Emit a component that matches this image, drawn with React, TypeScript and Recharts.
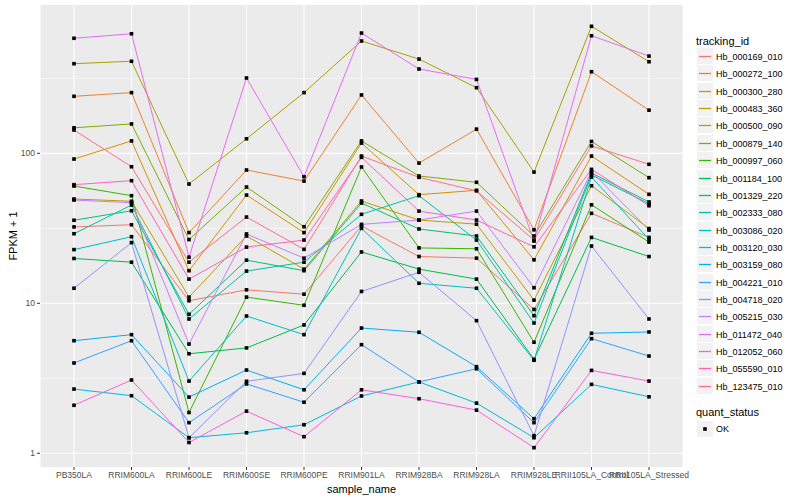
import React from 'react';
import { LineChart, Line, XAxis, YAxis, CartesianGrid, ReferenceLine } from 'recharts';

const samples = [
  'PB350LA', 'RRIM600LA', 'RRIM600LE', 'RRIM600SE', 'RRIM600PE', 'RRIM901LA',
  'RRIM928BA', 'RRIM928LA', 'RRIM928LE', 'RRII105LA_Control', 'RRII105LA_Stressed',
];

const trackingIds = [
  'Hb_000169_010', 'Hb_000272_100', 'Hb_000300_280', 'Hb_000483_360', 'Hb_000500_090',
  'Hb_000879_140', 'Hb_000997_060', 'Hb_001184_100', 'Hb_001329_220', 'Hb_002333_080',
  'Hb_003086_020', 'Hb_003120_030', 'Hb_003159_080', 'Hb_004221_010', 'Hb_004718_020',
  'Hb_005215_030', 'Hb_011472_040', 'Hb_012052_060', 'Hb_055590_010', 'Hb_123475_010',
];

const colors = [
  '#F8766D', '#EA8331', '#D89000', '#C09B00', '#A3A500', '#7CAE00', '#39B600', '#00BB4E',
  '#00BF7D', '#00C1A3', '#00BFC4', '#00BAE0', '#00B0F6', '#35A2FF', '#9590FF', '#C77CFF',
  '#E76BF3', '#FA62DB', '#FF62BC', '#FF6C91',
];

// FPKM + 1, one value per sample
const hb000169 = [32.3, 33.4, 10.4, 12.3, 11.5, 32.8, 20.5, 20.0, 9.1, 39.8, 27.5];
const hb000272 = [240, 254, 29.6, 77.4, 65.3, 245, 86.1, 145, 30.9, 350, 194];
const hb000300 = [91.6, 121, 16.5, 52.7, 29.6, 117, 53.0, 56.7, 19.5, 95.9, 53.3];
const hb000483 = [49.6, 47.9, 11.0, 28.1, 16.9, 48.1, 35.9, 33.7, 10.5, 60.8, 31.5];
const hb000500 = [396, 411, 62.4, 125, 254, 561, 425, 274, 75.0, 703, 408];
const hb000879 = [148, 157, 26.6, 59.6, 32.4, 121, 70.6, 64.1, 28.1, 120, 68.8];
const hb000997 = [60.5, 52.2, 1.87, 11.0, 9.7, 81.1, 23.4, 23.1, 5.5, 45.4, 25.6];
const hb001184 = [19.9, 18.8, 4.61, 5.04, 7.17, 22.0, 16.9, 14.5, 4.23, 27.5, 20.5];
const hb001329 = [35.8, 41.4, 8.45, 19.4, 16.5, 46.6, 31.3, 28.1, 8.27, 73.9, 47.4];
const hb002333 = [29.1, 45.2, 7.86, 16.4, 18.8, 39.2, 52.2, 26.4, 7.39, 71.7, 46.1];
const hb003086 = [22.8, 27.8, 3.03, 8.23, 6.18, 31.6, 13.6, 12.6, 4.17, 69.5, 26.7];
const hb003120 = [2.68, 2.42, 1.27, 1.37, 1.55, 2.41, 2.99, 2.16, 1.27, 2.88, 2.38];
const hb003159 = [5.63, 6.18, 2.37, 3.59, 2.65, 6.84, 6.41, 3.78, 1.70, 6.31, 6.44];
const hb004221 = [4.0, 5.63, 1.60, 2.90, 2.19, 5.30, 2.99, 3.66, 1.60, 5.81, 4.45];
const hb004718 = [12.6, 25.4, 1.27, 3.02, 3.41, 12.0, 16.1, 7.66, 1.31, 24.1, 7.86];
const hb005215 = [48.8, 46.9, 5.35, 29.0, 20.0, 33.6, 35.9, 41.2, 12.7, 75.4, 30.8];
const hb011472 = [585, 627, 20.3, 318, 69.8, 634, 365, 311, 26.0, 608, 445];
const hb012052 = [2.09, 3.08, 1.18, 1.91, 1.29, 2.65, 2.31, 1.94, 1.09, 3.57, 3.03];
const hb055590 = [61.8, 65.7, 14.5, 23.7, 26.4, 94.0, 41.2, 35.9, 23.8, 78.2, 44.7];
const hb123475 = [143, 81.4, 18.8, 37.6, 22.9, 95.9, 69.2, 56.2, 26.4, 112, 84.5];

const seriesValues = [
  hb000169, hb000272, hb000300, hb000483, hb000500, hb000879, hb000997, hb001184,
  hb001329, hb002333, hb003086, hb003120, hb003159, hb004221, hb004718, hb005215,
  hb011472, hb012052, hb055590, hb123475,
];

const yTicks = [1, 10, 100];
const minorTicks = [3.162, 31.62, 316.2];

const data = samples.map((s, i) => {
  const row: Record<string, string | number> = { sample: s };
  trackingIds.forEach((id, k) => {
    row[id] = seriesValues[k][i];
  });
  return row;
});

const FONT = '"Liberation Sans", Arial, Helvetica, sans-serif';

const SquareDot = (props: any) => {
  const { cx, cy, index, dataKey } = props;
  if (cx == null || cy == null) return null;
  return <rect key={`${dataKey}-${index}`} x={cx - 1.8} y={cy - 1.8} width={3.6} height={3.6} fill="#000" />;
};

function LegendPanel() {
  const rowY = (i: number) => Math.round(56 + i * 17.36) + 0.5;
  return (
    <svg width={800} height={500} style={{ position: 'absolute', left: 0, top: 0, pointerEvents: 'none' }}>
      <g fontFamily={FONT}>
        <text x={696} y={44.5} fontSize={11} fill="#000">tracking_id</text>
        {trackingIds.map((id, i) => (
          <g key={id}>
            <rect x={697} y={rowY(i) - 8.5} width={16} height={16} fill="#F2F2F2" />
            <line x1={699} x2={711} y1={rowY(i)} y2={rowY(i)} stroke={colors[i]} strokeWidth={1.3} />
            <text x={716} y={rowY(i) + 3} fontSize={9} fill="#000">{id}</text>
          </g>
        ))}
        <text x={696} y={416} fontSize={11} fill="#000">quant_status</text>
        <rect x={697} y={421} width={16} height={16} fill="#F2F2F2" />
        <rect x={703.2} y={427.2} width={3.6} height={3.6} fill="#000" />
        <text x={716} y={432.4} fontSize={9} fill="#000">OK</text>
      </g>
    </svg>
  );
}

export default function App() {
  return (
    <div style={{ position: 'relative', width: 800, height: 500, background: '#fff' }}>
      <style>{'body{margin:0}'}</style>
      <LineChart width={800} height={500} data={data} margin={{ top: 5, right: 117, bottom: 0, left: 0 }}>
        <CartesianGrid horizontal={false} stroke="#fff" strokeWidth={1.1} fill="#EBEBEB" />
        {minorTicks.map((v) => (
          <ReferenceLine key={`mi${v}`} y={v} stroke="#fff" strokeWidth={0.55} />
        ))}
        {yTicks.map((v) => (
          <ReferenceLine key={`ma${v}`} y={v} stroke="#fff" strokeWidth={1.1} />
        ))}
        <XAxis
          dataKey="sample"
          type="category"
          padding={{ left: 34, right: 34 }}
          axisLine={false}
          tickLine={{ stroke: '#333', strokeWidth: 1 }}
          tickSize={3}
          tickMargin={2}
          interval={0}
          height={33}
          tick={{ fill: '#4D4D4D', fontSize: 8.5, fontFamily: FONT }}
          label={{ value: 'sample_name', position: 'insideBottom', offset: 7, fill: '#000', fontSize: 11, fontFamily: FONT }}
        />
        <YAxis
          type="number"
          scale="log"
          domain={[0.81, 975]}
          allowDataOverflow
          ticks={yTicks}
          axisLine={false}
          tickLine={{ stroke: '#333', strokeWidth: 1 }}
          tickSize={3}
          tickMargin={2}
          width={40}
          tick={{ fill: '#4D4D4D', fontSize: 8.5, fontFamily: FONT }}
          label={{ value: 'FPKM + 1', angle: -90, position: 'insideLeft', offset: 13.5, fill: '#000', fontSize: 11, fontFamily: FONT, style: { textAnchor: 'middle' } }}
        />
        {trackingIds.map((id, k) => (
          <Line
            key={id}
            dataKey={id}
            stroke={colors[k]}
            strokeWidth={1}
            dot={false}
            activeDot={false}
            type="linear"
            isAnimationActive={false}
          />
        ))}
        {trackingIds.map((id) => (
          <Line
            key={`pts-${id}`}
            dataKey={id}
            stroke="none"
            dot={SquareDot}
            activeDot={false}
            legendType="none"
            type="linear"
            isAnimationActive={false}
          />
        ))}
      </LineChart>
      <LegendPanel />
    </div>
  );
}
